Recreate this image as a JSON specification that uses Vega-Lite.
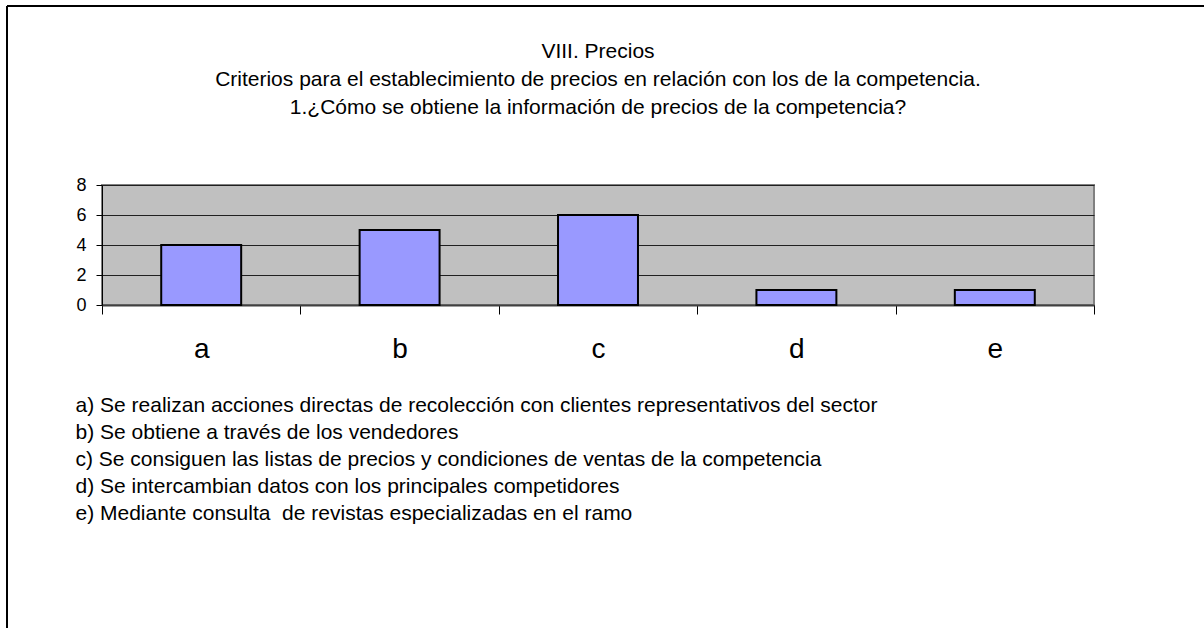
{
  "$schema": "https://vega.github.io/schema/vega-lite/v6.json",
  "autosize": {"type": "none"},
  "width": 992,
  "height": 120,
  "padding": {"left": 102, "top": 185, "right": 110, "bottom": 323},
  "background": "white",
  "title": {
    "text": ["VIII. Precios", "Criterios para el establecimiento de precios en relación con los de la competencia.", "1.¿Cómo se obtiene la información de precios de la competencia?"],
    "anchor": "middle",
    "frame": "group",
    "font": "Liberation Sans",
    "fontSize": 21,
    "fontWeight": "normal",
    "color": "black",
    "lineHeight": 28,
    "offset": -113
  },
  "config": {
    "view": {"fill": "#C0C0C0", "stroke": "#808080", "strokeWidth": 2},
    "font": "Liberation Sans"
  },
  "layer": [
    {
      "data": {"values": [
        {"categoria": "a", "valor": 4},
        {"categoria": "b", "valor": 5},
        {"categoria": "c", "valor": 6},
        {"categoria": "d", "valor": 1},
        {"categoria": "e", "valor": 1}
      ]},
      "mark": {"type": "bar", "fill": "#9999FF", "stroke": "black", "strokeWidth": 2, "width": {"band": 0.403}},
      "encoding": {
        "x": {
          "field": "categoria", "type": "nominal", "sort": null,
          "scale": {"paddingInner": 0, "paddingOuter": 0},
          "axis": {
            "labelAngle": 0, "labelFontSize": 28, "labelColor": "black", "labelPadding": 21,
            "labelFont": "Liberation Sans",
            "tickBand": "extent", "tickSize": 9, "tickColor": "black",
            "domainColor": "#404040", "domainWidth": 2,
            "title": [
              "a) Se realizan acciones directas de recolección con clientes representativos del sector",
              "b) Se obtiene a través de los vendedores",
              "c) Se consiguen las listas de precios y condiciones de ventas de la competencia",
              "d) Se intercambian datos con los principales competidores",
              "e) Mediante consulta\u00a0 de revistas especializadas en el ramo"
            ],
            "titleFont": "Liberation Sans",
            "titleFontSize": 21,
            "titleFontWeight": "normal",
            "titleColor": "black",
            "titleAnchor": "start",
            "titleAlign": "left",
            "titleBaseline": "alphabetic",
            "titleLineHeight": 27,
            "titleX": -27,
            "titleY": 106
          }
        },
        "y": {
          "field": "valor", "type": "quantitative",
          "scale": {"domain": [0, 8]},
          "axis": {
            "title": null, "values": [0, 2, 4, 6, 8],
            "labelFontSize": 18, "labelColor": "black", "labelPadding": 10,
            "labelFont": "Liberation Sans",
            "tickSize": 6, "tickColor": "black",
            "domainColor": "black",
            "grid": true, "gridColor": "#202020", "gridWidth": 1
          }
        }
      }
    },
    {
      "data": {"values": [{}]},
      "mark": {"type": "rule", "stroke": "black", "strokeWidth": 2},
      "encoding": {"x": {"value": -95}, "y": {"value": -179}, "y2": {"value": 443}}
    },
    {
      "data": {"values": [{}]},
      "mark": {"type": "rule", "stroke": "black", "strokeWidth": 2},
      "encoding": {"x": {"value": -95}, "x2": {"value": 1102}, "y": {"value": -179}}
    }
  ]
}
